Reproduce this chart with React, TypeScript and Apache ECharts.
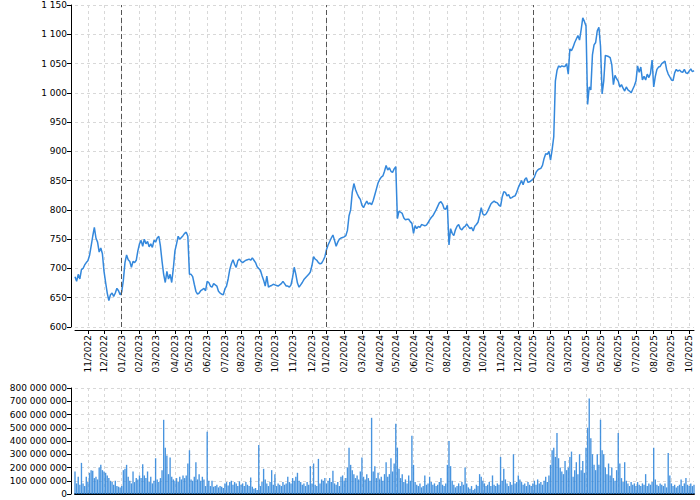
import React, { useEffect, useRef } from "react";
import * as echarts from "echarts";

// Month tick labels (first month is a partial month without label)
const months = [
  "10/2022", "11/2022", "12/2022",
  "01/2023", "02/2023", "03/2023", "04/2023", "05/2023", "06/2023", "07/2023", "08/2023", "09/2023", "10/2023", "11/2023", "12/2023",
  "01/2024", "02/2024", "03/2024", "04/2024", "05/2024", "06/2024", "07/2024", "08/2024", "09/2024", "10/2024", "11/2024", "12/2024",
  "01/2025", "02/2025", "03/2025", "04/2025", "05/2025", "06/2025", "07/2025", "08/2025", "09/2025", "10/2025",
];

// Number of sampled sessions (every 2nd trading day) per month
const samplesPerMonth = [
  8, 10, 11,
  11, 10, 12, 9, 11, 11, 10, 11, 10, 11, 12, 9,
  11, 11, 11, 10, 11, 10, 11, 12, 10, 11, 11, 9,
  11, 11, 11, 9, 11, 11, 11, 11, 11, 4,
];

// Closing price
const price = [
  686, 678, 690, 682, 698, 700, 706, 710,
  713, 722, 738, 755, 770, 752, 745, 728, 735, 725,
  695, 676, 658, 645, 655, 658, 652, 658, 666, 662, 655,
  660, 680, 710, 723, 715, 712, 702, 712, 710, 714, 730,
  742, 748, 738, 750, 742, 746, 737, 742, 736, 748,
  745, 752, 755, 738, 712, 690, 676, 695, 682, 690, 676, 700,
  730, 742, 755, 750, 753, 756, 760, 762, 755,
  690, 690, 686, 673, 661, 656, 658, 662, 664, 666, 662,
  678, 676, 670, 668, 674, 672, 670, 661, 658, 656, 655,
  665, 670, 682, 698, 708, 715, 707, 702, 713, 716,
  712, 710, 712, 714, 715, 716, 714, 718, 714, 710, 703,
  700, 697, 688, 680, 670, 687, 668, 670, 671, 673,
  672, 671, 670, 672, 674, 678, 674, 670, 670, 668, 672,
  685, 702, 690, 675, 668, 672, 676, 681, 684, 687, 690, 694,
  705, 720, 716, 714, 710, 708, 709, 714, 720,
  732, 740, 746, 752, 757, 748, 738, 745, 750, 752, 753,
  754, 756, 765, 790, 800, 830, 845, 835, 828, 822, 818,
  808, 804, 810, 815, 810, 812, 809, 816, 826, 836, 846,
  852, 856, 858, 866, 876, 868, 872, 866, 864, 870,
  874, 785, 798, 796, 794, 786, 783, 784, 784, 780, 777,
  760, 773, 768, 772, 770, 775, 774, 773, 774, 778,
  783, 787, 790, 795, 800, 806, 812, 814, 810, 802, 801,
  808, 740, 768, 760, 756, 766, 772, 775, 768, 766, 770, 772,
  776, 772, 768, 770, 764, 772, 775, 779, 790, 804,
  793, 791, 793, 798, 804, 810, 813, 815, 813, 812, 808,
  806, 822, 831, 830, 824, 826, 820, 821, 823, 824, 830,
  838, 844, 850, 843, 852, 855, 847, 848, 850,
  852, 856, 864, 868, 870, 871, 876, 888, 896, 895, 900,
  885, 903, 925, 1020, 1038, 1046, 1044, 1046, 1045, 1045, 1050,
  1032, 1075, 1072, 1078, 1086, 1092, 1098, 1090, 1108, 1128, 1122,
  1114, 980, 1010, 1005, 1065, 1082, 1086, 1106, 1112,
  1080, 998, 1020, 1064, 1063, 1062, 1060, 1048, 1014, 1030, 1024,
  1020, 1010, 1014, 1008, 1003, 1010, 1005, 1003, 1000, 1006, 1012,
  1020, 1046, 1035, 1044, 1022, 1028, 1022, 1032, 1026, 1033, 1056,
  1010, 1028, 1040, 1044, 1045, 1050, 1052, 1054, 1040, 1032, 1027,
  1022, 1021, 1034, 1040, 1037, 1039, 1036, 1035, 1040, 1034, 1033,
  1037, 1041, 1036, 1038,
];

// Volume in millions
const volumeMillions = [
  170, 80, 130, 70, 235, 80, 60, 130,
  90, 160, 180, 175, 120, 130, 110, 200, 220, 180,
  170, 160, 140, 120, 100, 90, 70, 100, 60, 55, 50,
  60, 180, 190, 220, 130, 100, 80, 170, 90, 120, 110,
  140, 120, 225, 140, 120, 170, 90, 130, 80, 100,
  270, 110, 90, 120, 180, 560, 350, 290, 150, 275, 130, 110,
  100, 120, 90, 130, 110, 140, 120, 140, 230,
  330, 110, 100, 130, 240, 110, 150, 100, 130, 110, 60,
  470, 100, 60, 100, 55, 60, 70, 50, 60, 55, 45,
  80, 90, 65, 90, 100, 70, 90, 80, 60, 95,
  70, 80, 60, 90, 70, 60, 125, 55, 40, 45, 30,
  370, 60, 90, 190, 110, 80, 60, 90, 180, 70,
  150, 60, 80, 70, 60, 90, 70, 80, 130, 90, 80,
  120, 100, 130, 160, 100, 90, 70, 80, 60, 90, 70, 210,
  80, 230, 70, 60, 265, 80, 110, 100, 120,
  80, 100, 120, 90, 175, 80, 70, 90, 60, 130, 140,
  100, 120, 200, 350, 220, 180, 150, 120, 140, 110, 170,
  275, 130, 110, 150, 120, 100, 575, 170, 210, 120, 160,
  110, 130, 100, 150, 240, 130, 150, 270, 170, 230,
  530, 350, 190, 120, 150, 90, 110, 80, 140, 100, 440,
  220, 90, 70, 60, 80, 50, 60, 140, 70, 80,
  130, 90, 70, 80, 60, 70, 90, 120, 70, 60, 80,
  220, 400, 210, 100, 70, 50, 60, 80, 60, 90, 70, 200,
  80, 50, 40, 60, 30, 40, 70, 60, 150, 130,
  100, 80, 60, 70, 90, 60, 140, 70, 60, 80, 70,
  280, 100, 190, 110, 80, 60, 90, 70, 300, 80, 90,
  140, 110, 90, 70, 80, 60, 90, 70, 60,
  80, 100, 70, 110, 80, 90, 70, 100, 130, 90, 140,
  220, 330, 350, 280, 460, 270, 200, 170, 150, 250, 180,
  200, 280, 320, 130, 180, 240, 150, 300, 180, 250, 160,
  350, 500, 720, 420, 300, 220, 180, 300, 220,
  560, 330, 300, 200, 150, 230, 140, 200, 120, 100, 180,
  460, 230, 120, 90, 240, 100, 80, 60, 90, 70, 80,
  60, 90, 70, 60, 80, 70, 150, 60, 80, 70, 90,
  350, 110, 70, 60, 80, 70, 60, 80, 50, 310, 140,
  80, 60, 70, 50, 60, 70, 110, 60, 80, 120, 70,
  60, 80, 60, 70,
];

const yearStarts = ["01/2023", "01/2024", "01/2025"];

const categories: string[] = [];
const monthStart = new Set<number>();
months.forEach((m, mi) => {
  for (let k = 0; k < samplesPerMonth[mi]; k++) {
    if (k === 0 && mi > 0) monthStart.add(categories.length);
    categories.push(`${m}#${k}`);
  }
});

const fmt = (v: number) => String(v).replace(/\B(?=(\d{3})+(?!\d))/g, " ");
const isMonthStart = (index: number) => monthStart.has(index);

const FONT = "DejaVu Sans";
const GRID_LINE = { show: true, interval: isMonthStart, lineStyle: { color: "#d8d8d8", type: [3, 3] as any, width: 1 } };
const H_GRID = { show: true, lineStyle: { color: "#d8d8d8", type: [3, 3] as any, width: 1 } };
const BLUE = "#3488dc";

export default function App() {
  const ref = useRef<HTMLDivElement>(null);
  useEffect(() => {
    if (!ref.current) return;
    const chart = echarts.init(ref.current, null, { renderer: "svg" });
    chart.setOption({
      animation: false,
      grid: [
        { left: 75, right: 6, top: 5, height: 322 },
        { left: 75, right: 6, top: 388, height: 106 },
      ],
      xAxis: [
        {
          type: "category",
          gridIndex: 0,
          data: categories,
          boundaryGap: false,
          offset: 3,
          axisLine: { lineStyle: { color: "#000", width: 1 } },
          axisTick: { show: true, interval: isMonthStart, length: 4, lineStyle: { color: "#000" } },
          axisLabel: {
            interval: isMonthStart,
            rotate: 90,
            fontSize: 9,
            fontFamily: FONT,
            color: "#000",
            margin: 5,
            formatter: (v: string) => v.split("#")[0],
          },
          splitLine: GRID_LINE,
        },
        {
          type: "category",
          gridIndex: 1,
          data: categories,
          boundaryGap: false,
          axisLine: { lineStyle: { color: "#000", width: 2 } },
          axisTick: { show: false },
          axisLabel: { show: false },
          splitLine: GRID_LINE,
        },
      ],
      yAxis: [
        {
          type: "value",
          gridIndex: 0,
          min: 600,
          max: 1150,
          interval: 50,
          offset: 4,
          axisLine: { show: true, lineStyle: { color: "#000", width: 1 } },
          axisTick: { show: true, length: 4, lineStyle: { color: "#000" } },
          axisLabel: { fontSize: 9, fontFamily: FONT, color: "#000", margin: 4, formatter: fmt },
          splitLine: H_GRID,
        },
        {
          type: "value",
          gridIndex: 1,
          min: 0,
          max: 800000000,
          interval: 100000000,
          offset: 4,
          axisLine: { show: true, lineStyle: { color: "#000", width: 1 } },
          axisTick: { show: true, length: 4, lineStyle: { color: "#000" } },
          axisLabel: { fontSize: 9, fontFamily: FONT, color: "#000", margin: 4, formatter: fmt },
          splitLine: H_GRID,
        },
      ],
      series: [
        {
          type: "line",
          xAxisIndex: 0,
          yAxisIndex: 0,
          data: price,
          showSymbol: false,
          symbol: "none",
          lineStyle: { color: BLUE, width: 1.5 },
          markLine: {
            silent: true,
            symbol: ["none", "none"],
            label: { show: false },
            lineStyle: { color: "#555", type: [5, 3], width: 1 },
            data: yearStarts.map((m) => ({ xAxis: `${m}#0` })),
          },
        },
        {
          type: "bar",
          xAxisIndex: 1,
          yAxisIndex: 1,
          data: volumeMillions.map((v) => v * 1000000),
          barWidth: "85%",
          itemStyle: { color: BLUE, opacity: 0.9 },
        },
      ],
    });
    return () => chart.dispose();
  }, []);
  return <div ref={ref} style={{ position: "absolute", left: 0, top: 0, width: 700, height: 500 }} />;
}
